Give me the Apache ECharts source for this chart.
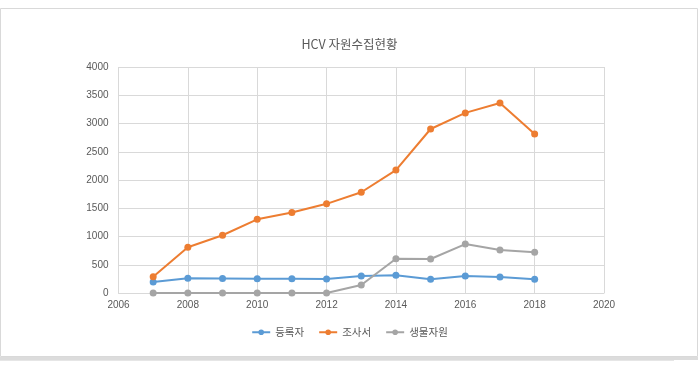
<!DOCTYPE html>
<html>
<head>
<meta charset="utf-8">
<script src="https://cdn.jsdelivr.net/npm/echarts@6/dist/echarts.min.js"></script>
<style>
html,body{margin:0;padding:0;background:#fff;}
#c{width:699px;height:371px;}
</style>
</head>
<body>
<div id="c"></div>
<script>
const years = [2007, 2008, 2009, 2010, 2011, 2012, 2013, 2014, 2015, 2016, 2017, 2018];
const seriesNames = ['등록자', '조사서', '생물자원'];
const registrants = [195, 262, 258, 253, 253, 248, 303, 315, 242, 300, 283, 242];
const surveys = [288, 810, 1022, 1304, 1425, 1578, 1783, 2175, 2903, 3188, 3363, 2814];
const bioResources = [0, 0, 0, 0, 0, 0, 141, 605, 602, 866, 761, 720];
const titleText = 'HCV 자원수집현황';

const colors = ['#5B9BD5', '#ED7D31', '#A5A5A5'];
const pair = (vals) => years.map((y, i) => [y, vals[i]]);
const allData = [registrants, surveys, bioResources];

const chart = echarts.init(document.getElementById('c'), null, {renderer: 'canvas'});
chart.setOption({
  animation: false,
  backgroundColor: '#fff',
  title: {
    text: titleText,
    left: 'center',
    top: 33,
    textStyle: {fontSize: 12.5, fontWeight: 'normal', color: '#595959', fontFamily: '"Noto Sans CJK KR", sans-serif'}
  },
  legend: {
    data: seriesNames,
    left: 'center',
    top: 322,
    itemWidth: 18,
    itemHeight: 7,
    itemGap: 14,
    textStyle: {fontSize: 10.5, color: '#595959', fontFamily: '"Noto Sans CJK KR", sans-serif'}
  },
  grid: {left: 118.5, right: 95, top: 67, bottom: 78, containLabel: false},
  xAxis: {
    type: 'value', min: 2006, max: 2020, interval: 2,
    axisLine: {show: true, lineStyle: {color: '#D9D9D9'}},
    axisTick: {show: false},
    axisLabel: {color: '#595959', fontSize: 10, margin: 7, fontFamily: '"Liberation Sans", sans-serif', formatter: v => String(v)},
    splitLine: {show: true, lineStyle: {color: '#D9D9D9'}}
  },
  yAxis: {
    type: 'value', min: 0, max: 4000, interval: 500,
    axisLine: {show: false},
    axisTick: {show: false},
    axisLabel: {color: '#595959', fontSize: 10, margin: 10, fontFamily: '"Liberation Sans", sans-serif', formatter: v => String(v)},
    splitLine: {show: true, lineStyle: {color: '#D9D9D9'}}
  },
  graphic: [
    {type: 'rect', shape: {x: 0.5, y: 8.5, width: 697, height: 348}, style: {fill: 'none', stroke: '#D9D9D9', lineWidth: 1}, z: -1},
    {type: 'rect', shape: {x: 0, y: 357, width: 698, height: 3}, style: {fill: '#DCDCDC'}, z: -1},
    {type: 'rect', shape: {x: 0, y: 360, width: 674, height: 1}, style: {fill: '#E6E6E6'}, z: -1}
  ],
  series: seriesNames.map((n, i) => ({
    name: n,
    type: 'line',
    data: pair(allData[i]),
    symbol: 'circle',
    symbolSize: 7,
    lineStyle: {color: colors[i], width: 2},
    itemStyle: {color: colors[i]},
    color: colors[i]
  }))
});
</script>
</body>
</html>
